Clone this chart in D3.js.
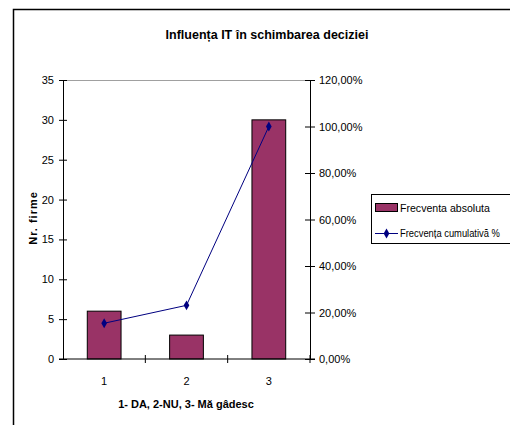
<!DOCTYPE html>
<html>
<head>
<meta charset="utf-8">
<script src="https://cdn.jsdelivr.net/npm/d3@7"></script>
<style>
  html, body { margin: 0; padding: 0; background: #fff; }
  svg { display: block; }
  text { font-family: "Liberation Sans", Arial, sans-serif; }
</style>
</head>
<body>
<svg id="chart" width="510" height="425"></svg>
<script>
// Chart data
const categories = ["1", "2", "3"];
const absoluteFreq = [6, 3, 30];
const cumulativePct = [15.38, 23.08, 100];
const leftTicks = [0, 5, 10, 15, 20, 25, 30, 35];
const rightTicks = [0, 20, 40, 60, 80, 100, 120];
const seriesNames = ["Frecventa absoluta", "Frecvența cumulativă %"];
const titleText = "Influența IT în schimbarea deciziei";
const xTitle = "1- DA, 2-NU, 3- Mă gâdesc";
const yTitle = "Nr. firme";

const svg = d3.select("#chart");
const plot = { left: 63, right: 310, top: 80, bottom: 359 };

// Outer chart frame
svg.append("rect")
  .attr("x", 13.5).attr("y", 9.5)
  .attr("width", 600).attr("height", 500)
  .attr("fill", "#fff").attr("stroke", "#000").attr("stroke-width", 1.5);

// Title
svg.append("text")
  .attr("x", 267).attr("y", 39)
  .attr("text-anchor", "middle")
  .attr("font-size", 12.5).attr("font-weight", "bold")
  .text(titleText);

const x = d3.scaleBand().domain(categories).range([plot.left, plot.right]);
const yL = d3.scaleLinear().domain([0, 35]).range([plot.bottom, plot.top]);
const yR = d3.scaleLinear().domain([0, 120]).range([plot.bottom, plot.top]);

// Plot area top border
svg.append("line")
  .attr("x1", plot.left).attr("x2", plot.right)
  .attr("y1", plot.top + 0.5).attr("y2", plot.top + 0.5)
  .attr("stroke", "#a0a0a0");

// Bars
const barW = x.bandwidth() * 0.41;
svg.append("g").selectAll("rect")
  .data(absoluteFreq)
  .join("rect")
  .attr("x", (d, i) => x(categories[i]) + (x.bandwidth() - barW) / 2)
  .attr("y", d => yL(d))
  .attr("width", barW)
  .attr("height", d => plot.bottom - yL(d))
  .attr("fill", "#993366")
  .attr("stroke", "#000").attr("stroke-width", 1);

// Left axis
const leftAxis = d3.axisLeft(yL).tickValues(leftTicks).tickSize(4).tickSizeOuter(0).tickPadding(5);
const gL = svg.append("g").attr("transform", `translate(${plot.left},0)`).call(leftAxis);
gL.selectAll(".tick line").attr("x2", 4).attr("x1", -4);
gL.selectAll("text").attr("font-size", 11).attr("font-family", "Liberation Sans, Arial, sans-serif");

// Right axis
const rightAxis = d3.axisRight(yR).tickValues(rightTicks).tickSize(5).tickSizeOuter(0).tickPadding(4)
  .tickFormat(d => d3.format(".2f")(d).replace(".", ",") + "%");
const gR = svg.append("g").attr("transform", `translate(${plot.right},0)`).call(rightAxis);
gR.selectAll(".tick line").attr("x1", -5);
gR.selectAll("text").attr("font-size", 11).attr("font-family", "Liberation Sans, Arial, sans-serif");

// Bottom axis with ticks between categories
const gB = svg.append("g").attr("transform", `translate(0,${plot.bottom})`);
gB.append("line").attr("x1", plot.left - 4).attr("x2", plot.right + 5)
  .attr("stroke", "#000");
const boundaries = categories.slice(1).map(c => x(c)).concat([plot.right]);
gB.selectAll(".btick").data(boundaries).join("line")
  .attr("x1", d => d).attr("x2", d => d).attr("y1", -4).attr("y2", 4)
  .attr("stroke", "#000");
gB.selectAll(".blabel").data(categories).join("text")
  .attr("x", d => x(d) + x.bandwidth() / 2)
  .attr("y", 26)
  .attr("text-anchor", "middle")
  .attr("font-size", 11)
  .text(d => d);
[gL, gR].forEach(g => g.select(".domain").attr("stroke", "#000"));

// Cumulative line
const lineGen = d3.line()
  .x((d, i) => x(categories[i]) + x.bandwidth() / 2)
  .y(d => yR(d));
svg.append("path")
  .datum(cumulativePct)
  .attr("d", lineGen)
  .attr("fill", "none")
  .attr("stroke", "#000080").attr("stroke-width", 1);
const diamond = d3.symbol().type(d3.symbolDiamond).size(28);
svg.append("g").selectAll("path")
  .data(cumulativePct)
  .join("path")
  .attr("d", diamond)
  .attr("transform", (d, i) => `translate(${x(categories[i]) + x.bandwidth() / 2},${yR(d)})`)
  .attr("fill", "#000080");

// Axis titles
svg.append("text")
  .attr("x", 186).attr("y", 408)
  .attr("text-anchor", "middle")
  .attr("font-size", 11).attr("font-weight", "bold")
  .text(xTitle);
svg.append("text")
  .attr("transform", "translate(37,218) rotate(-90)")
  .attr("text-anchor", "middle")
  .attr("font-size", 11).attr("font-weight", "bold")
  .attr("letter-spacing", 1)
  .text(yTitle);

// Legend
const lg = svg.append("g").attr("transform", "translate(371,194)");
lg.append("rect").attr("x", 0.5).attr("y", 0.5).attr("width", 200).attr("height", 49)
  .attr("fill", "#fff").attr("stroke", "#000");
lg.append("rect").attr("x", 4.5).attr("y", 9.5).attr("width", 22).attr("height", 8)
  .attr("fill", "#993366").attr("stroke", "#000");
lg.append("line").attr("x1", 4).attr("x2", 27).attr("y1", 39.5).attr("y2", 39.5)
  .attr("stroke", "#000080");
lg.append("path").attr("d", diamond).attr("transform", "translate(15.5,39.5)").attr("fill", "#000080");

// Legend labels, narrowed horizontally so they stay inside the window
const legendWidths = [90, 100];
const legendY = [18, 43];
seriesNames.forEach((name, i) => {
  const t = lg.append("text").attr("x", 0).attr("y", 0).attr("font-size", 11).text(name);
  const w = t.node().getComputedTextLength();
  const s = Math.min(1, legendWidths[i] / w);
  t.attr("transform", `translate(29,${legendY[i]}) scale(${s},1)`);
});
</script>
</body>
</html>
